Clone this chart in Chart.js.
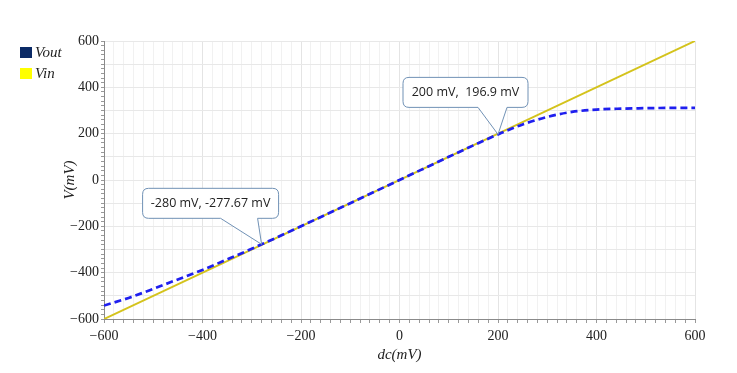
<!DOCTYPE html>
<html>
<head>
<meta charset="utf-8">
<script src="https://cdn.jsdelivr.net/npm/chart.js@4/dist/chart.umd.min.js"></script>
<style>
html,body{margin:0;padding:0;background:#fff;}
#wrap{width:737px;height:373px;position:relative;}
</style>
</head>
<body>
<div id="wrap"><canvas id="c" width="737" height="373"></canvas></div>
<script>
// ---- data ----
const dcValues   = [-600,-550,-500,-450,-400,-350,-300,-280,-250,-200,-150,-100,-50,0,50,100,150,200,250,300,350,400,450,500,550,600];
const voutValues = [-542,-509,-470,-429,-388,-343,-297,-277.67,-249,-199.5,-150,-100,-50,0,50,100,149.5,196.9,240,272,294,304,308,310,311,311];
const vinX = [-600, 600];
const vinValues = [-600, 600];
const seriesNames = ['Vout', 'Vin'];
const xTickLabels = [-600,-400,-200,0,200,400,600];
const yTickLabels = [-600,-400,-200,0,200,400,600];
const annX = [-280, 200];
const annY = [-277.67, 196.9];
const annText = ['-280 mV, -277.67 mV', '200 mV,  196.9 mV'];

const fmt = v => (v < 0 ? '\u2212' + Math.abs(v) : String(v));

const calloutStyle = [
  {dx:-119, dy:-56, w:136, h:30, t0:78, t1:115},
  {dx:-95,  dy:-57, w:125, h:30, t0:75, t1:104}
];

const calloutPlugin = {
  id:'callouts',
  afterDatasetsDraw(chart){
    const ctx = chart.ctx, xs = chart.scales.x, ys = chart.scales.y;
    ctx.save();
    annX.forEach((ax,i)=>{
      const px = xs.getPixelForValue(ax), py = ys.getPixelForValue(annY[i]);
      const s = calloutStyle[i];
      const L = px + s.dx, T = py + s.dy, W = s.w, H = s.h, r = 6;
      const B = T + H;
      ctx.beginPath();
      ctx.moveTo(L + r, T);
      ctx.lineTo(L + W - r, T);
      ctx.quadraticCurveTo(L + W, T, L + W, T + r);
      ctx.lineTo(L + W, B - r);
      ctx.quadraticCurveTo(L + W, B, L + W - r, B);
      ctx.lineTo(L + s.t1, B);
      ctx.lineTo(px, py);
      ctx.lineTo(L + s.t0, B);
      ctx.lineTo(L + r, B);
      ctx.quadraticCurveTo(L, B, L, B - r);
      ctx.lineTo(L, T + r);
      ctx.quadraticCurveTo(L, T, L + r, T);
      ctx.closePath();
      ctx.fillStyle = '#ffffff';
      ctx.fill();
      ctx.strokeStyle = '#7091b5';
      ctx.lineWidth = 1;
      ctx.stroke();
      ctx.fillStyle = '#222';
      ctx.font = '12.5px "Open Sans", sans-serif';
      ctx.textAlign = 'center';
      ctx.textBaseline = 'middle';
      ctx.fillText(annText[i], L + W/2, T + H/2 + 0.5);
    });
    ctx.restore();
  }
};

const legendPlugin = {
  id:'customLegend',
  afterDraw(chart){
    const ctx = chart.ctx;
    ctx.save();
    const cols = ['#0b2a66', '#ffff00'];
    chart.data.datasets.forEach((ds,i)=>{
      const y = 47 + i*21;
      ctx.fillStyle = cols[i];
      ctx.fillRect(20, y, 12, 11);
      ctx.fillStyle = '#222';
      ctx.font = 'italic 15px "Liberation Serif", serif';
      ctx.textAlign = 'left';
      ctx.textBaseline = 'middle';
      ctx.fillText(ds.label, 35, y + 6);
    });
    ctx.restore();
  }
};

new Chart(document.getElementById('c'), {
  type:'line',
  data:{
    datasets:[
      {label:seriesNames[0], data:dcValues.map((x,i)=>({x, y:voutValues[i]})),
       borderColor:'#1f1fef', borderWidth:2.7, borderDash:[7,4], pointRadius:0, tension:0.4, cubicInterpolationMode:'monotone', fill:false},
      {label:seriesNames[1], data:vinX.map((x,i)=>({x, y:vinValues[i]})),
       borderColor:'#d4c31c', borderWidth:2, pointRadius:0, fill:false}
    ]
  },
  options:{
    responsive:false, animation:false,
    layout:{padding:{left:61, top:41, right:42, bottom:9}},
    plugins:{legend:{display:false}, tooltip:{enabled:false}},
    scales:{
      x:{type:'linear', min:-600, max:600,
        afterFit(s){ s.height = 45; },
        ticks:{stepSize:20, autoSkip:false, maxRotation:0, color:'#222', padding:5,
          font:{family:'"Liberation Serif", serif', size:14},
          callback:(v)=> xTickLabels.includes(v) ? fmt(v) : ''},
        grid:{color:(c)=> (c.tick && c.tick.value % 200 === 0) ? '#e4e4e4' : '#f1f1f1',
              tickColor:'#999', tickLength:4, drawTicks:true},
        border:{color:'#8a8a8a', width:1},
        title:{display:true, text:'dc(mV)', color:'#222', padding:{top:0,bottom:0},
          font:{family:'"Liberation Serif", serif', size:15, style:'italic'}}
      },
      y:{type:'linear', min:-600, max:600,
        afterFit(s){ s.width = 43; },
        ticks:{stepSize:20, autoSkip:false, color:'#222', padding:2,
          font:{family:'"Liberation Serif", serif', size:14},
          callback:(v)=> yTickLabels.includes(v) ? fmt(v) : ''},
        grid:{color:(c)=> (c.tick && c.tick.value % 100 === 0) ? '#e8e8e8' : 'rgba(0,0,0,0)',
              tickColor:'#999', tickLength:3, drawTicks:true},
        border:{color:'#8a8a8a', width:1},
        title:{display:true, text:'V(mV)', color:'#222', padding:{top:0,bottom:0},
          font:{family:'"Liberation Serif", serif', size:15, style:'italic'}}
      }
    }
  },
  plugins:[calloutPlugin, legendPlugin]
});
</script>
</body>
</html>
